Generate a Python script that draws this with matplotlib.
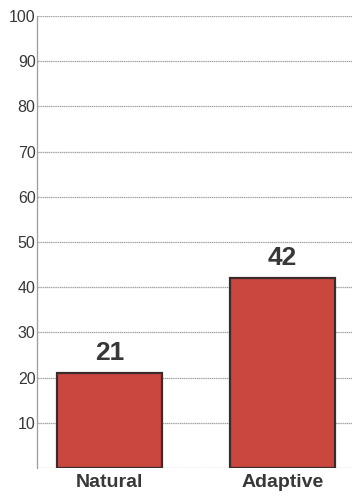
import matplotlib.pyplot as plt

plt.rcParams['font.family'] = ['Liberation Sans', 'DejaVu Sans']

# bar chart data
categories = ['Natural', 'Adaptive']
values = [21, 42]
yticks = [10, 20, 30, 40, 50, 60, 70, 80, 90, 100]

fig = plt.figure(figsize=(3.52, 4.97), dpi=100)
ax = fig.add_axes([0.105, 0.058, 0.895, 0.910])

x = range(len(categories))
bars = ax.bar(x, values, width=0.607, color='#c9473f',
              edgecolor='#3b2b2b', linewidth=1.6, zorder=3)

for b, v in zip(bars, values):
    ax.text(b.get_x() + b.get_width() / 2, v + 1.8, str(v),
            ha='center', va='bottom', fontsize=19, fontweight='bold',
            color='#383838')

ax.set_xlim(-0.419, 1.40)
ax.set_ylim(0, 100)
ax.set_yticks(yticks)
ax.set_xticks(list(x))
ax.set_xticklabels(categories, fontsize=14, fontweight='bold', color='#383838')
ax.tick_params(axis='y', labelsize=11.5, colors='#383838', length=0, pad=1)
ax.tick_params(axis='x', length=0, pad=4)

ax.grid(axis='y', color='#a0a0a0', linewidth=0.9, linestyle=(0, (1, 0.5)), zorder=0)
ax.axhline(0, color='#a0a0a0', linewidth=0.9, linestyle=(0, (1, 0.5)), zorder=0)

for side in ['top', 'right', 'bottom']:
    ax.spines[side].set_visible(False)
ax.spines['left'].set_color('#a0a0a0')
ax.spines['left'].set_linewidth(0.9)
ax.spines['left'].set_linestyle((0, (1, 0.5)))

fig.savefig('out.png', dpi=100)
